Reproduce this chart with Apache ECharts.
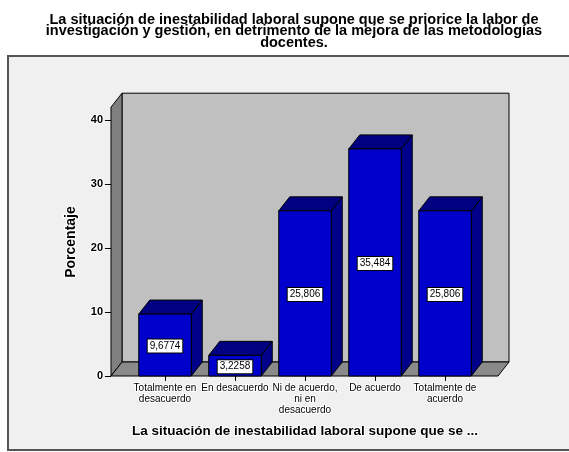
<!DOCTYPE html>
<html><head><meta charset="utf-8">
<script src="https://cdn.jsdelivr.net/npm/echarts@6/dist/echarts.min.js"></script>
<style>html,body{margin:0;padding:0;background:#fff}#c{width:569px;height:452px}</style>
</head><body><div id="c"></div>
<script>
var categories = ['Totalmente en\ndesacuerdo', 'En desacuerdo', 'Ni de acuerdo,\nni en\ndesacuerdo', 'De acuerdo', 'Totalmente de\nacuerdo'];
var values = [9.6774, 3.2258, 25.806, 35.484, 25.806];
var yTicks = [0, 10, 20, 30, 40];
var wallTop = 42;
var titleText = 'La situación de inestabilidad laboral supone que se priorice la labor de\ninvestigación y gestión, en detrimento de la mejora de las metodologías\ndocentes.';
var xName = 'La situación de inestabilidad laboral supone que se ...';
var yName = 'Porcentaje';

var DX = 11, DY = -14;
var chart = echarts.init(document.getElementById('c'), null, {renderer: 'canvas'});
var font = 'Liberation Sans, Arial, sans-serif';

function bgItem(params, api) {
  var c0 = api.coord([0, 0]);
  var c4 = api.coord([categories.length - 1, 0]);
  var band = api.size([1, 0])[0];
  var left = c0[0] - band / 2 - 19;
  var right = c4[0] + band / 2 + 18;
  var y0 = c0[1];
  var yt = api.coord([0, wallTop])[1];
  var st = {stroke: '#000', lineWidth: 1};
  return {type: 'group', children: [
    {type: 'polygon', shape: {points: [[left + DX, yt + DY], [right + DX, yt + DY], [right + DX, y0 + DY], [left + DX, y0 + DY]]},
      style: Object.assign({fill: '#c0c0c0'}, st)},
    {type: 'polygon', shape: {points: [[left, y0], [left, yt], [left + DX, yt + DY], [left + DX, y0 + DY]]},
      style: Object.assign({fill: '#808080'}, st)},
    {type: 'polygon', shape: {points: [[left, y0], [right, y0], [right + DX, y0 + DY], [left + DX, y0 + DY]]},
      style: Object.assign({fill: '#8a8a8a'}, st)}
  ]};
}

function barItem(params, api) {
  var i = api.value(0), v = api.value(1);
  var top = api.coord([i, v]);
  var base = api.coord([i, 0]);
  var w = api.size([1, 0])[0] * 0.75;
  var x1 = top[0] - w / 2, x2 = top[0] + w / 2, y = top[1], y0 = base[1];
  var st = {stroke: '#000', lineWidth: 1};
  return {type: 'group', children: [
    {type: 'polygon', shape: {points: [[x2, y], [x2 + DX, y + DY], [x2 + DX, y0 + DY], [x2, y0]]},
      style: Object.assign({fill: '#00008a'}, st)},
    {type: 'polygon', shape: {points: [[x1, y], [x2, y], [x2 + DX, y + DY], [x1 + DX, y + DY]]},
      style: Object.assign({fill: '#000080'}, st)},
    {type: 'rect', shape: {x: x1, y: y, width: w, height: y0 - y},
      style: Object.assign({fill: '#0000cc'}, st)},
    {type: 'text', x: top[0], y: (y + y0) / 2 + 1,
      style: {text: String(v).replace('.', ','), align: 'center', verticalAlign: 'middle',
        fontSize: 10, fontFamily: font, fill: '#000', backgroundColor: '#fff',
        borderColor: '#000', borderWidth: 1, padding: [2, 2, 1, 2]}}
  ]};
}

var option = {
  backgroundColor: '#fff',
  animation: false,
  title: {
    text: titleText, left: 289, top: 9, textAlign: 'center',
    textStyle: {fontSize: 14.5, fontWeight: 'bold', fontFamily: font, lineHeight: 11.5, color: '#000'}
  },
  graphic: [{type: 'rect', z: -1, shape: {x: 8, y: 56, width: 570, height: 394},
    style: {fill: '#f0f0f0', stroke: '#555', lineWidth: 2}}],
  grid: {left: 130, right: 89, top: 120, bottom: 76},
  xAxis: {
    type: 'category', data: categories,
    axisLine: {show: false},
    axisTick: {show: true, alignWithLabel: true, length: 5, lineStyle: {color: '#000'}},
    axisLabel: {interval: 0, margin: 7, fontSize: 10, lineHeight: 11, color: '#000', fontFamily: font,
      textBorderColor: '#fff', textBorderWidth: 2},
    name: xName, nameLocation: 'middle', nameGap: 48,
    nameTextStyle: {fontSize: 13.5, fontWeight: 'bold', color: '#000', fontFamily: font,
      textBorderColor: '#fff', textBorderWidth: 2}
  },
  yAxis: {
    type: 'value', min: yTicks[0], max: yTicks[yTicks.length - 1], interval: 10, offset: 19,
    axisLine: {show: false},
    splitLine: {show: false},
    axisTick: {show: true, length: 6, lineStyle: {color: '#000'}},
    axisLabel: {fontSize: 11, fontWeight: 'bold', color: '#000', fontFamily: font, margin: 8,
      textBorderColor: '#fff', textBorderWidth: 2},
    name: yName, nameLocation: 'middle', nameGap: 28,
    nameTextStyle: {fontSize: 14, fontWeight: 'bold', color: '#000', fontFamily: font,
      textBorderColor: '#fff', textBorderWidth: 2, padding: [0, 0, 0, 12]}
  },
  series: [
    {type: 'custom', z: 1, renderItem: bgItem, data: [[0, 0]], silent: true, clip: false},
    {type: 'custom', z: 2, renderItem: barItem, clip: false,
      data: values.map(function (v, i) { return [i, v]; })}
  ]
};
chart.setOption(option);
</script></body></html>
